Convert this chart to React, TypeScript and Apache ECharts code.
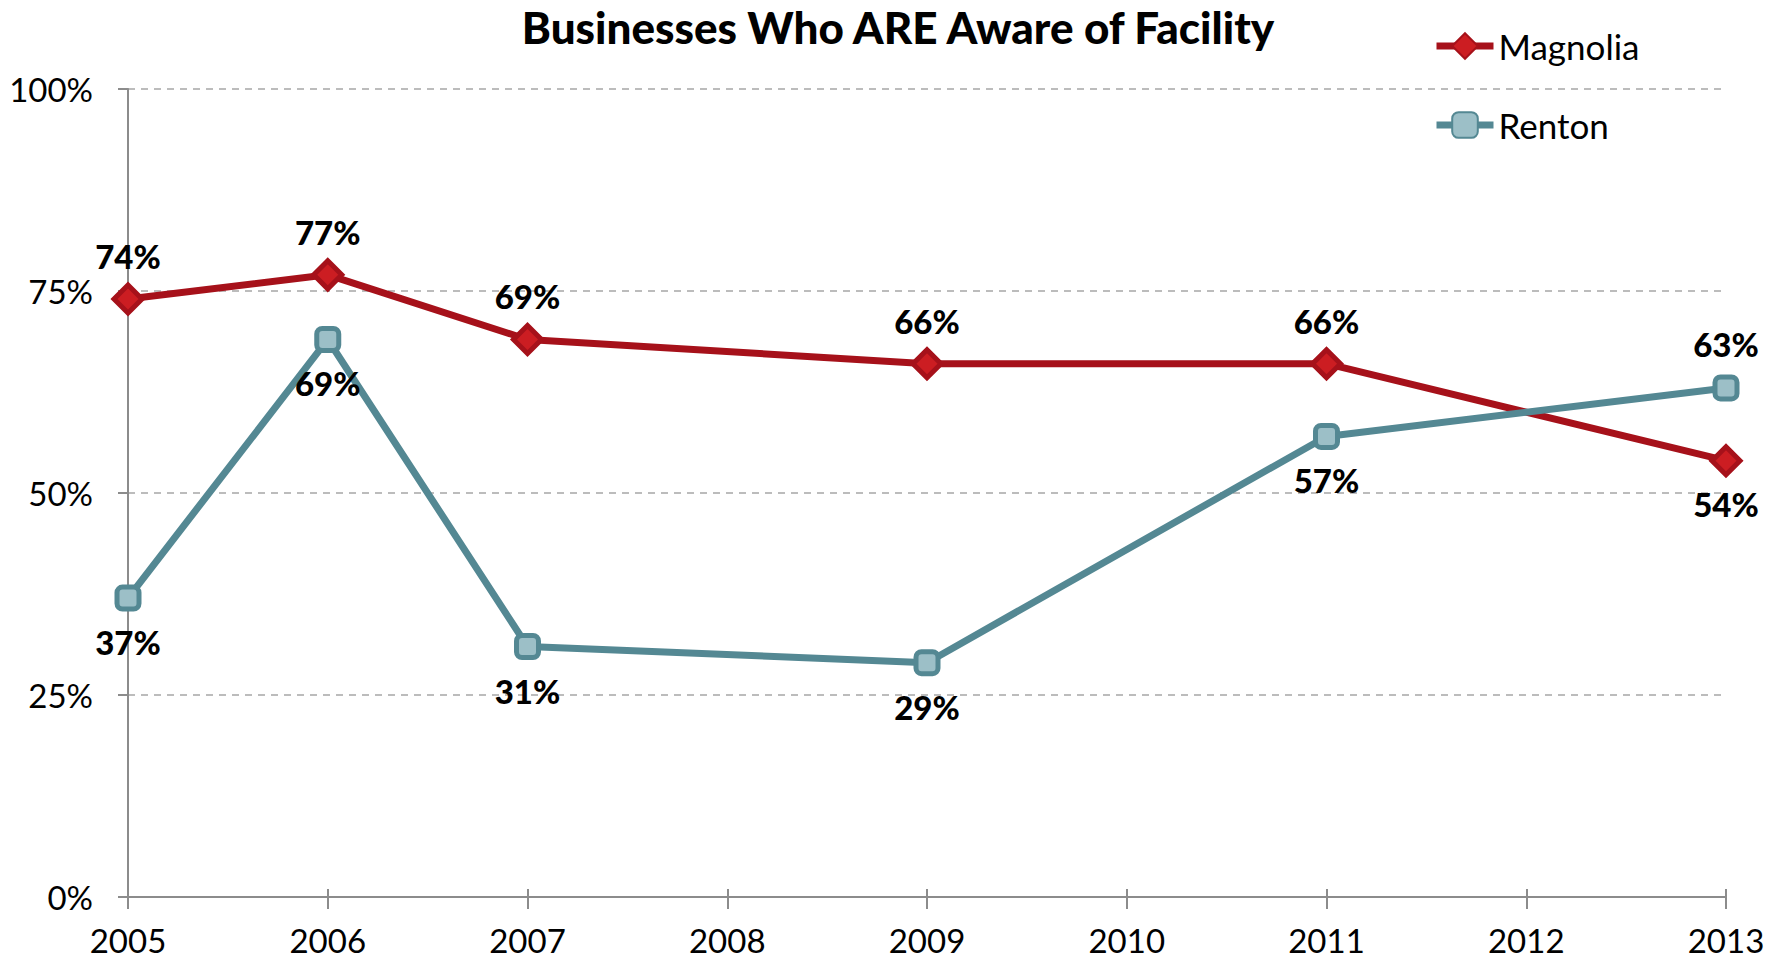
import React, { useEffect, useRef } from "react";
import * as echarts from "echarts";

const years = ["2005", "2006", "2007", "2008", "2009", "2010", "2011", "2012", "2013"];
const magnolia: (number | null)[] = [74, 77, 69, null, 66, null, 66, null, 54];
const renton: (number | null)[] = [37, 69, 31, null, 29, null, 57, null, 63];
const magnoliaLabelPos = ["top", "top", "top", "top", "top", "top", "top", "top", "bottom"];
const rentonLabelPos = ["bottom", "bottom", "bottom", "bottom", "bottom", "bottom", "bottom", "bottom", "top"];
const yTicks = [0, 25, 50, 75, 100];

const FONT = "Lato, 'Open Sans', sans-serif";

export default function App() {
  const ref = useRef<HTMLDivElement>(null);
  useEffect(() => {
    if (!ref.current) return;
    const chart = echarts.init(ref.current, null, { renderer: "svg" });
    const mk = (vals: (number | null)[], pos: string[]) =>
      vals.map((v, i) => ({
        value: v,
        label: { position: pos[i] },
      }));
    chart.setOption({
      animation: false,
      backgroundColor: "#ffffff",
      title: {
        text: "Businesses Who ARE Aware of Facility",
        left: 893,
        textAlign: "center",
        top: 0,
        textStyle: { fontFamily: FONT, fontWeight: 900, fontSize: 44, color: "#000" },
      },
      legend: {
        orient: "vertical",
        left: 1428,
        top: 23,
        itemWidth: 57,
        itemHeight: 32,
        itemGap: 43,
        textStyle: { fontFamily: FONT, fontSize: 35, color: "#000", lineHeight: 36 },
        data: [
          { name: "Magnolia", lineStyle: { width: 7 } },
          { name: "Renton", lineStyle: { width: 7 } },
        ],
      },
      grid: { left: 128, right: 53, top: 89, bottom: 65, containLabel: false },
      xAxis: [
        {
          type: "category",
          data: years,
          boundaryGap: false,
          axisLine: { lineStyle: { color: "#8c8c8c", width: 2 } },
          axisTick: { show: true, alignWithLabel: true, length: 12, lineStyle: { color: "#8c8c8c", width: 2 } },
          axisLabel: { fontFamily: FONT, fontSize: 33, color: "#000", margin: 26 },
          splitLine: { show: false },
        },
        {
          type: "category",
          data: years,
          boundaryGap: false,
          position: "bottom",
          axisLine: { show: false },
          axisTick: { show: true, inside: true, length: 8, lineStyle: { color: "#8c8c8c", width: 2 } },
          axisLabel: { show: false },
          splitLine: { show: false },
        },
      ],
      yAxis: {
        type: "value",
        min: yTicks[0],
        max: yTicks[yTicks.length - 1],
        interval: 25,
        axisLine: { show: true, lineStyle: { color: "#8c8c8c", width: 2 } },
        axisTick: { show: true, length: 10, lineStyle: { color: "#8c8c8c", width: 2 } },
        axisLabel: { fontFamily: FONT, fontSize: 33, color: "#000", margin: 35, formatter: "{value}%" },
        splitLine: { show: true, lineStyle: { color: "#a6a6a6", width: 1.5, type: [7, 6] } },
      },
      series: [
        {
          name: "Magnolia",
          type: "line",
          data: mk(magnolia, magnoliaLabelPos),
          connectNulls: true,
          symbol: "diamond",
          symbolSize: 28,
          z: 3,
          lineStyle: { color: "#A6111A", width: 7 },
          itemStyle: { color: "#CC1D22", borderColor: "#A6111A", borderWidth: 5 },
          label: {
            show: true,
            distance: 10,
            formatter: "{c}%",
            fontFamily: FONT,
            fontWeight: 900,
            fontSize: 33,
            color: "#000",
          },
        },
        {
          name: "Renton",
          type: "line",
          data: mk(renton, rentonLabelPos),
          connectNulls: true,
          symbol: "roundRect",
          symbolSize: 22,
          z: 4,
          lineStyle: { color: "#548893", width: 7 },
          itemStyle: { color: "#9CBFC7", borderColor: "#548893", borderWidth: 5 },
          label: {
            show: true,
            distance: 14,
            formatter: "{c}%",
            fontFamily: FONT,
            fontWeight: 900,
            fontSize: 33,
            color: "#000",
          },
        },
      ],
    });
    return () => chart.dispose();
  }, []);
  return (
    <div
      ref={ref}
      style={{ position: "absolute", left: 0, top: 0, width: 1779, height: 962, background: "#fff" }}
    />
  );
}
